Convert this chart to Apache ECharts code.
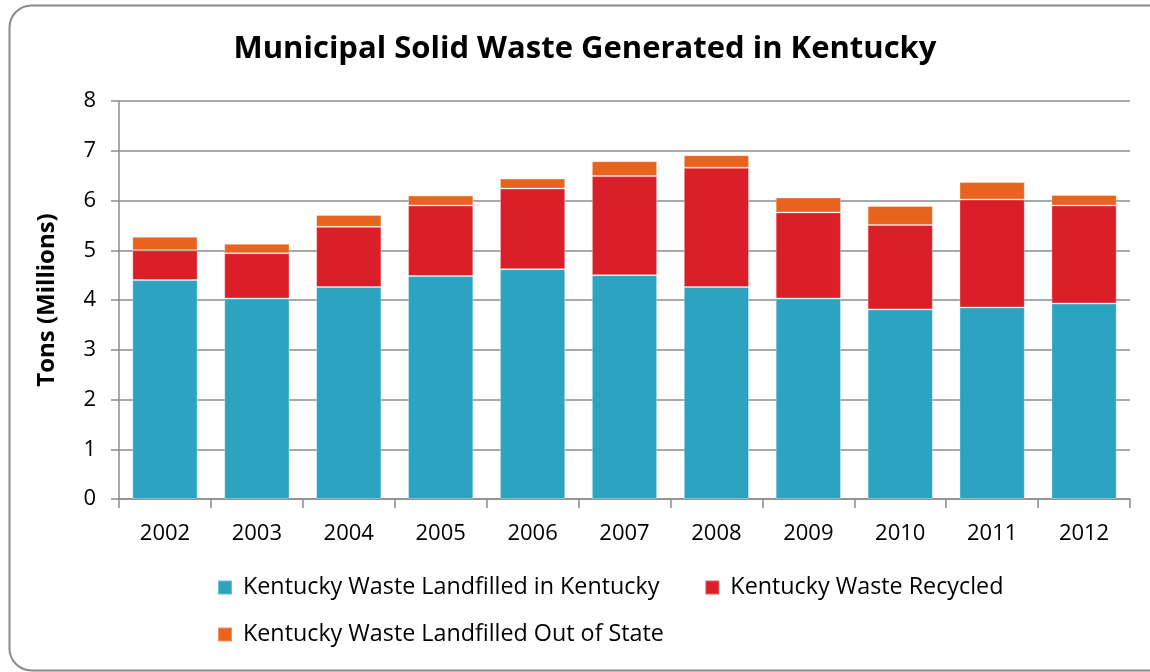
<!DOCTYPE html>
<html>
<head>
<meta charset="utf-8">
<script src="https://cdn.jsdelivr.net/npm/echarts@6/dist/echarts.min.js"></script>
<style>
  html, body { margin: 0; padding: 0; background: #ffffff; }
  #chart { width: 1150px; height: 672px; }
</style>
</head>
<body>
<div id="chart"></div>
<script>
// Municipal solid waste generated in Kentucky, millions of tons per year
const years = ['2002', '2003', '2004', '2005', '2006', '2007', '2008', '2009', '2010', '2011', '2012'];
const landfilledInKentucky = [4.40, 4.03, 4.26, 4.48, 4.62, 4.50, 4.26, 4.03, 3.81, 3.85, 3.93];
const recycled = [0.60, 0.91, 1.21, 1.42, 1.62, 1.99, 2.40, 1.73, 1.70, 2.17, 1.97];
const landfilledOutOfState = [0.27, 0.19, 0.24, 0.20, 0.20, 0.30, 0.25, 0.30, 0.38, 0.35, 0.21];
const yTicks = [0, 1, 2, 3, 4, 5, 6, 7, 8];

const FONT = '"Open Sans", "Noto Sans", sans-serif';
const AXIS_GRAY = '#8c8c8c';

const chart = echarts.init(document.getElementById('chart'), null, { renderer: 'canvas' });

const seriesNames = [
  'Kentucky Waste Landfilled in Kentucky',
  'Kentucky Waste Recycled',
  'Kentucky Waste Landfilled Out of State'
];
const colors = ['#2ca3c0', '#da1f29', '#e8641e'];

function barSeries(name, data, color) {
  return {
    name: name,
    type: 'bar',
    stack: 'total',
    data: data,
    barCategoryGap: '29%',
    itemStyle: { color: color, borderColor: 'rgba(255,255,255,0.3)', borderWidth: 1 },
    emphasis: { disabled: true }
  };
}

chart.setOption({
  animation: false,
  backgroundColor: '#ffffff',
  textStyle: { fontFamily: FONT },
  graphic: [{
    type: 'rect',
    left: 7, top: 3,
    shape: { width: 1170, height: 665, r: 22 },
    style: { fill: 'none', stroke: '#8a8a8a', lineWidth: 2 },
    z: -10
  }],
  title: {
    text: 'Municipal Solid Waste Generated in Kentucky',
    left: 580, top: 29, textAlign: 'center',
    textStyle: { fontFamily: FONT, fontSize: 31, fontWeight: 'bold', color: '#000' }
  },
  legend: [{
    data: seriesNames.slice(0, 2),
    left: 212, top: 571,
    itemWidth: 14, itemHeight: 14, itemGap: 45,
    icon: 'rect',
    textStyle: { fontFamily: FONT, fontSize: 23.3, color: '#000', padding: [0, 0, 0, 6] }
  }, {
    data: seriesNames.slice(2),
    left: 212, top: 618,
    itemWidth: 14, itemHeight: 14,
    icon: 'rect',
    textStyle: { fontFamily: FONT, fontSize: 23.3, color: '#000', padding: [0, 0, 0, 6] }
  }],
  grid: { left: 119, right: 20, top: 101, bottom: 173 },
  xAxis: {
    type: 'category',
    data: years,
    axisLine: { lineStyle: { color: AXIS_GRAY, width: 1.5 } },
    axisTick: { show: true, length: 9, lineStyle: { color: AXIS_GRAY, width: 1.5 } },
    axisLabel: { fontFamily: FONT, fontSize: 22, color: '#000', margin: 24 }
  },
  yAxis: {
    type: 'value',
    min: yTicks[0], max: yTicks[yTicks.length - 1], interval: 1,
    name: 'Tons (Millions)',
    nameLocation: 'middle',
    nameGap: 60,
    nameRotate: 90,
    nameTextStyle: { fontFamily: FONT, fontSize: 24, fontWeight: 'bold', color: '#000' },
    axisLine: { show: true, lineStyle: { color: AXIS_GRAY, width: 1.5 } },
    axisTick: { show: true, length: 8, lineStyle: { color: AXIS_GRAY, width: 1.5 } },
    axisLabel: { fontFamily: FONT, fontSize: 22, color: '#000', margin: 23 },
    splitLine: { lineStyle: { color: AXIS_GRAY, width: 1.5 } }
  },
  series: [
    barSeries(seriesNames[0], landfilledInKentucky, colors[0]),
    barSeries(seriesNames[1], recycled, colors[1]),
    barSeries(seriesNames[2], landfilledOutOfState, colors[2])
  ]
});
</script>
</body>
</html>
